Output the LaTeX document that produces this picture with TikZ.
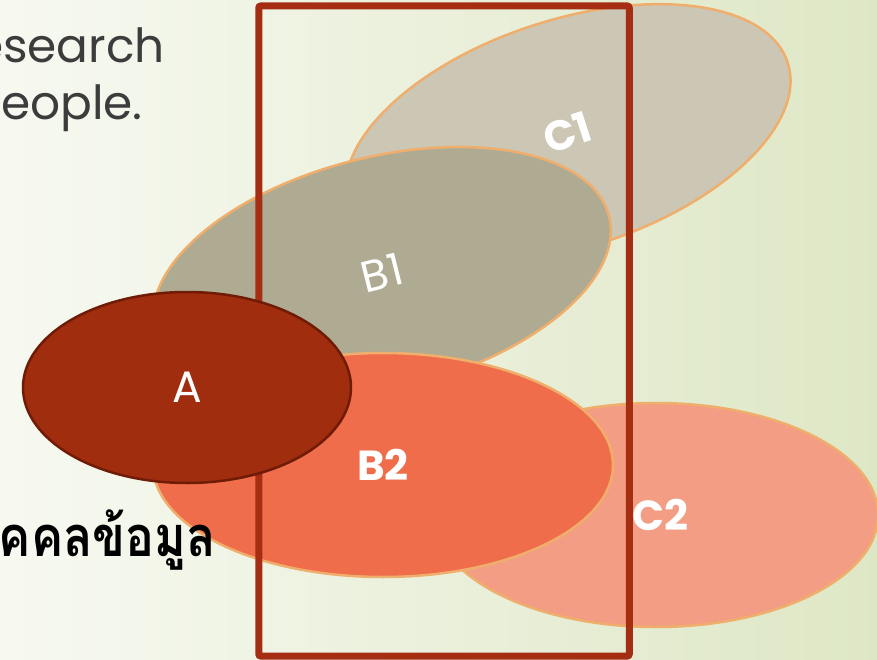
\documentclass[tikz,border=0pt]{standalone}
\usepackage{fontspec}
\newfontfamily\pop{Poppins}
\newfontfamily\thaifont[Script=Thai, FakeStretch=0.86]{Loma}
\usetikzlibrary{shapes.geometric}
\definecolor{bgL}{HTML}{F7F9F1}
\definecolor{bgR}{HTML}{DEE7C5}
\definecolor{txtgray}{HTML}{3C3C3C}
\definecolor{cone}{HTML}{CCC6B5}
\definecolor{bone}{HTML}{AFAA92}
\definecolor{btwo}{HTML}{EF6D4B}
\definecolor{ctwo}{HTML}{F29D84}
\definecolor{rim}{HTML}{F0AE6C}
\definecolor{afill}{HTML}{A12D0F}
\definecolor{arim}{HTML}{701B06}
\definecolor{framec}{HTML}{A52E12}
\tikzset{
  blob/.style={ellipse, draw=rim, line width=2.5pt, inner sep=0pt, outer sep=0pt, text=white},
  thinlabel/.style={font=\pop\fontsize{44}{48}\selectfont},
  boldlabel/.style={font=\pop\bfseries\fontsize{42}{46}\selectfont},
  framebox/.style={draw=framec, line width=7pt, rounded corners=2pt, inner sep=0pt, minimum width=370.5pt, minimum height=650pt},
  headtext/.style={anchor=base east, inner sep=0pt, text=txtgray, font=\pop\fontsize{47}{50}\selectfont},
  thaitext/.style={anchor=base east, inner sep=0pt, text=black, font=\thaifont\bfseries\fontsize{56}{60}\selectfont}
}
\begin{document}
\begin{tikzpicture}[x=1pt,y=-1pt]
\useasboundingbox (0,0) rectangle (877,660);
\shade[left color=bgL, right color=bgR] (0,0) rectangle (877,660);
\node[headtext] (t1) at (165,63) {esearch};
\node[headtext] (t2) at (143,120) {eople.};
\node[blob, fill=cone, rotate=18, minimum width=462pt, minimum height=228pt, boldlabel] (C1) at (568,134) {\raisebox{4pt}{C1}};
\node[blob, fill=bone, rotate=14, minimum width=468pt, minimum height=232pt, thinlabel] (B1) at (382,273) {B1};
\node[blob, fill=ctwo, minimum width=444pt, minimum height=224pt, boldlabel] (C2) at (656,515) {\hspace*{8pt}C2};
\node[blob, fill=btwo, minimum width=460pt, minimum height=224pt, boldlabel] (B2) at (383,465) {B2};
\node[framebox] (F) at (444,331) {};
\node[ellipse, fill=afill, draw=arim, line width=2.5pt, inner sep=0pt, minimum width=328pt, minimum height=191pt, text=white, thinlabel] (A) at (187,387.5) {A};
\node[thaitext] (t3) at (216,556) {คคลข้อมูล};
\end{tikzpicture}
\end{document}
